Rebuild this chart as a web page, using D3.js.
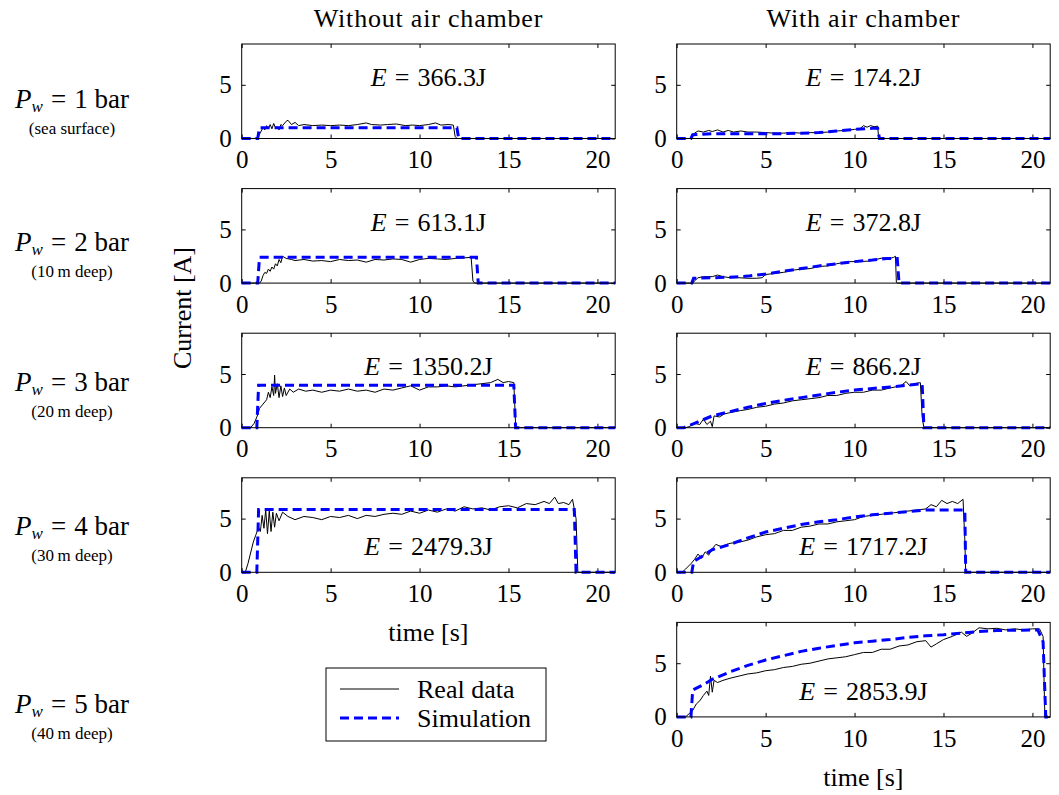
<!DOCTYPE html>
<html>
<head>
<meta charset="utf-8">
<script src="https://cdn.jsdelivr.net/npm/d3@7"></script>
<style>
  html, body { margin: 0; padding: 0; background: #fff; }
  svg { display: block; }
  text { font-family: "Liberation Serif", "DejaVu Serif", serif; fill: #000; }
</style>
</head>
<body>
<svg id="chart" width="1059" height="795"></svg>
<script>
// ---- data -------------------------------------------------------------
const columnTitles = ["Without air chamber", "With air chamber"];
const pressures = [1, 2, 3, 4, 5];
const depthNotes = ["(sea surface)", "(10\u2009m deep)", "(20\u2009m deep)", "(30\u2009m deep)", "(40\u2009m deep)"];
const xTicks = [0, 5, 10, 15, 20];
const yTicks = [0, 5];
const xDomain = [0, 21];
const yDomain = [0, 8.8];
const legendLabels = ["Real data", "Simulation"];

// energy per panel: [without chamber, with chamber]; null = not measured
const energies = [
  ["366.3J", "174.2J"],
  ["613.1J", "372.8J"],
  ["1350.2J", "866.2J"],
  ["2479.3J", "1717.2J"],
  [null, "2853.9J"]
];

// measured current [t (s), I (A)]
const realNoChamber1 = [[0,0],[0.7,0],[0.9,0.1],[1.1,0.7],[1.2,1.0],[1.3,0.8],[1.4,1.2],[1.5,0.9],[1.6,1.3],[1.7,0.9],[1.8,1.4],[1.9,1.0],[2.0,1.1],[2.1,0.8],[2.2,1.3],[2.3,1.2],[2.5,1.6],[2.6,1.7],[2.8,1.3],[3.0,1.5],[3.2,1.2],[3.5,1.3],[4.0,1.2],[4.5,1.25],[5,1.2],[5.5,1.25],[6,1.2],[6.5,1.3],[7,1.45],[7.3,1.3],[7.8,1.25],[8.2,1.3],[8.7,1.35],[9.2,1.2],[9.6,1.25],[10,1.2],[10.5,1.3],[10.9,1.45],[11.2,1.25],[11.6,1.3],[11.9,1.25],[12.0,0.2],[12.1,0],[21,0]];
const realNoChamber2 = [[0,0],[1.0,0],[1.1,0.2],[1.2,0.7],[1.3,1.0],[1.4,0.9],[1.5,1.3],[1.6,1.1],[1.7,1.5],[1.8,1.3],[1.9,1.8],[2.0,1.6],[2.1,2.2],[2.2,1.9],[2.3,2.5],[2.5,2.3],[2.8,2.2],[3.0,2.1],[3.5,2.2],[4,2.05],[4.5,2.1],[5,2.0],[5.5,2.2],[6,2.1],[6.5,2.15],[7,1.95],[7.5,2.2],[8,2.15],[8.5,2.25],[9,2.2],[9.5,1.95],[10,2.2],[10.5,2.3],[11,2.25],[11.5,2.2],[12,2.3],[12.5,2.35],[12.9,2.4],[13.0,0.2],[13.1,0],[21,0]];
const realNoChamber3 = [[0,0],[0.5,0],[0.7,0.4],[0.9,1.2],[1.0,1.8],[1.2,2.2],[1.4,2.6],[1.5,3.3],[1.6,2.8],[1.7,3.8],[1.8,3.0],[1.85,4.9],[1.9,3.2],[2.0,4.1],[2.1,2.8],[2.2,3.9],[2.3,2.9],[2.4,3.7],[2.5,3.0],[2.7,3.6],[2.9,3.3],[3.2,3.6],[3.6,3.4],[4,3.5],[4.5,3.3],[5,3.5],[5.5,3.4],[6,3.6],[6.5,3.4],[7,3.5],[7.5,3.3],[8,3.6],[8.5,3.5],[9,3.7],[9.5,3.9],[10,3.5],[10.5,3.8],[11,3.8],[11.5,3.9],[12,3.8],[12.5,3.9],[13,4.0],[13.5,4.1],[14,4.2],[14.4,4.5],[14.7,4.2],[15.0,4.3],[15.3,4.2],[15.4,0.3],[15.5,0],[21,0]];
const realNoChamber4 = [[0,0],[0.2,0],[0.35,0.8],[0.5,1.8],[0.65,2.8],[0.8,3.5],[0.95,4.2],[1.05,3.8],[1.15,5.3],[1.25,4.1],[1.35,5.8],[1.45,3.6],[1.55,5.7],[1.65,3.8],[1.75,5.6],[1.85,4.2],[1.95,5.5],[2.1,4.8],[2.3,5.6],[2.6,5.2],[3,4.9],[3.5,5.2],[4,5.1],[4.5,4.9],[5,5.2],[5.5,5.1],[6,5.3],[6.5,5.0],[7,5.3],[7.5,5.2],[8,5.4],[8.5,5.5],[9,5.4],[9.5,5.7],[10,5.5],[10.5,5.8],[11,5.6],[11.5,5.9],[12,5.7],[12.5,6.1],[13,5.9],[13.5,6.0],[14,5.8],[14.5,6.1],[15,6.2],[15.5,6.0],[16,6.4],[16.5,6.3],[17,6.6],[17.3,6.4],[17.6,7.0],[17.8,6.4],[18.1,6.5],[18.4,6.3],[18.6,6.8],[18.8,5.0],[18.9,0],[21,0]];
const realChamber1 = [[0,0],[0.8,0],[0.9,0.2],[1.0,0.5],[1.2,0.7],[1.5,0.6],[1.8,0.75],[2.0,0.65],[2.3,0.8],[2.6,0.6],[2.9,0.75],[3.2,0.6],[3.6,0.7],[4.0,0.6],[4.5,0.6],[5.0,0.55],[5.5,0.5],[6,0.5],[6.5,0.55],[7,0.5],[7.5,0.55],[8,0.55],[8.5,0.6],[9,0.7],[9.5,0.75],[10,0.85],[10.3,0.9],[10.5,1.2],[10.7,1.05],[10.9,1.2],[11.1,1.1],[11.3,1.15],[11.35,0.1],[11.4,0],[21,0]];
const realChamber2 = [[0,0],[0.9,0],[1.0,0.2],[1.2,0.5],[1.5,0.6],[2.0,0.6],[2.3,0.75],[2.6,0.6],[3.0,0.5],[3.5,0.5],[4,0.45],[4.5,0.45],[4.8,0.5],[5.0,0.8],[5.5,0.9],[6,1.0],[6.5,1.2],[7,1.3],[7.5,1.35],[8,1.55],[8.5,1.6],[9,1.8],[9.3,1.9],[9.7,2.0],[10.3,2.0],[10.8,2.05],[11.2,2.2],[11.6,2.35],[12,2.3],[12.2,2.4],[12.3,2.5],[12.35,0.1],[12.4,0],[21,0]];
const realChamber3 = [[0,0],[0.5,0],[0.7,0.1],[1.0,0.4],[1.3,0.3],[1.5,0.8],[1.7,0.3],[1.9,0.6],[2.0,0.1],[2.1,1.1],[2.4,1.0],[2.7,1.3],[3.0,1.4],[3.3,1.5],[3.6,1.6],[4,1.7],[4.5,1.9],[5,2.0],[5.5,2.2],[6,2.3],[6.5,2.5],[7,2.6],[7.5,2.7],[8,2.8],[8.5,3.0],[9,3.0],[9.5,3.2],[10,3.3],[10.5,3.3],[11,3.5],[11.5,3.5],[12,3.7],[12.3,3.8],[12.6,3.9],[12.9,4.3],[13.1,3.9],[13.4,4.1],[13.7,4.2],[13.8,1.0],[13.9,0],[21,0]];
const realChamber4 = [[0,0],[0.3,0],[0.5,0.3],[0.8,0.8],[1.0,1.2],[1.2,1.7],[1.4,1.3],[1.6,1.9],[1.8,1.6],[2.0,2.2],[2.2,2.6],[2.5,2.4],[3,2.7],[3.5,2.8],[4,3.0],[4.5,3.3],[5,3.5],[5.5,3.6],[6,3.9],[6.5,3.9],[7,4.2],[7.5,4.3],[8,4.5],[8.5,4.5],[9,4.7],[9.5,4.8],[10,4.9],[10.5,5.2],[11,5.3],[11.5,5.4],[12,5.5],[12.5,5.6],[13,5.7],[13.5,5.8],[14,5.9],[14.3,6.3],[14.6,6.1],[14.9,6.7],[15.2,6.4],[15.5,6.6],[15.8,6.4],[16.1,6.8],[16.2,3.0],[16.25,0],[21,0]];
const realChamber5 = [[0,0],[0.5,0],[0.7,0.3],[0.9,0.6],[1.1,1.2],[1.3,1.5],[1.5,2.0],[1.7,2.4],[1.8,2.0],[1.9,3.8],[2.0,2.3],[2.1,3.4],[2.3,3.2],[2.6,3.4],[3,3.6],[3.5,3.8],[4,4.0],[4.5,4.1],[5,4.3],[5.5,4.4],[6,4.6],[6.5,4.7],[7,4.9],[7.5,5.0],[8,5.2],[8.5,5.4],[9,5.5],[9.5,5.6],[10,5.8],[10.5,6.0],[11,6.0],[11.5,6.3],[12,6.3],[12.5,6.6],[13,6.7],[13.5,7.0],[14,7.1],[14.3,6.5],[14.6,6.8],[15,7.2],[15.5,7.5],[16,7.9],[16.3,7.5],[16.6,7.8],[17,8.3],[17.5,8.2],[18,8.25],[18.5,8.1],[19,8.2],[19.5,8.1],[20,8.2],[20.4,8.2],[20.6,7.5],[20.7,0],[21,0]];

// simulated current [t (s), I (A)]
const simNoChamber1 = [[0,0],[0.9,0],[1.0,1.0],[12.1,1.0],[12.2,0],[21,0]];
const simNoChamber2 = [[0,0],[0.9,0],[1.0,2.4],[13.2,2.4],[13.3,0],[21,0]];
const simNoChamber3 = [[0,0],[0.85,0],[0.95,3.95],[15.3,3.95],[15.4,0],[21,0]];
const simNoChamber4 = [[0,0],[0.85,0],[0.95,5.85],[18.7,5.85],[18.8,0],[21,0]];
const simChamber1 = [[0,0],[0.8,0],[0.9,0.35],[2,0.45],[4,0.45],[6,0.45],[7,0.5],[8,0.55],[9,0.7],[10,0.85],[11,0.95],[11.3,0.95],[11.4,0],[21,0]];
const simChamber2 = [[0,0],[0.85,0],[0.95,0.45],[2,0.5],[3,0.55],[4,0.65],[5,0.85],[6,1.1],[7,1.35],[8,1.6],[9,1.8],[10,2.0],[11,2.15],[11.8,2.3],[12.4,2.3],[12.5,0],[21,0]];
const simChamber3 = [[0,0],[0.4,0],[1,0.4],[2,1.1],[3,1.5],[4,1.9],[5,2.25],[6,2.55],[7,2.8],[8,3.05],[9,3.3],[10,3.5],[11,3.65],[12,3.8],[13,3.95],[13.8,4.1],[13.9,0],[21,0]];
const simChamber4 = [[0,0],[0.85,0],[0.95,1.0],[2,2.1],[3,2.6],[4,3.2],[5,3.75],[6,4.1],[7,4.45],[8,4.7],[9,4.9],[10,5.15],[11,5.35],[12,5.5],[13,5.65],[14,5.8],[16.2,5.8],[16.25,0],[21,0]];
const simChamber5 = [[0,0],[0.8,0],[0.9,2.5],[1.5,3.0],[2,3.5],[3,4.2],[4,4.8],[5,5.3],[6,5.7],[7,6.1],[8,6.4],[9,6.65],[10,6.9],[11,7.05],[12,7.2],[13,7.4],[14,7.55],[15,7.65],[16,7.8],[17,7.95],[18,8.05],[20.3,8.1],[20.6,7.0],[20.75,0],[21,0]];

const realSeries = [
  [realNoChamber1, realChamber1],
  [realNoChamber2, realChamber2],
  [realNoChamber3, realChamber3],
  [realNoChamber4, realChamber4],
  [null, realChamber5]
];
const simSeries = [
  [simNoChamber1, simChamber1],
  [simNoChamber2, simChamber2],
  [simNoChamber3, simChamber3],
  [simNoChamber4, simChamber4],
  [null, simChamber5]
];

// ---- layout -----------------------------------------------------------
const svg = d3.select("#chart");
const colLeft = [241.7, 676.7];
const panelW = 373.5;
const rowTop = [44, 188.6, 333.2, 477.8, 622.4];
const panelH = 94.5;
const FS = 24;
const SERIF = "Liberation Serif, DejaVu Serif, serif";
const simColor = "#0000ff";

svg.append("rect").attr("width", 1059).attr("height", 795).attr("fill", "#fff");

const line = d3.line();

function drawPanel(r, c) {
  const x0 = colLeft[c], y0 = rowTop[r];
  const x = d3.scaleLinear().domain(xDomain).range([0, panelW]);
  const y = d3.scaleLinear().domain(yDomain).range([panelH, 0]);
  const g = svg.append("g").attr("transform", `translate(${x0},${y0})`);

  // inward ticks on all four sides, labels on bottom and left only
  const bottom = g.append("g").attr("transform", `translate(0,${panelH})`)
    .call(d3.axisBottom(x).tickValues(xTicks).tickSizeInner(-4).tickSizeOuter(0).tickPadding(12));
  const top = g.append("g")
    .call(d3.axisTop(x).tickValues(xTicks).tickSizeInner(-4).tickSizeOuter(0).tickFormat(""));
  const left = g.append("g")
    .call(d3.axisLeft(y).tickValues(yTicks).tickSizeInner(-4).tickSizeOuter(0).tickPadding(10));
  const right = g.append("g").attr("transform", `translate(${panelW},0)`)
    .call(d3.axisRight(y).tickValues(yTicks).tickSizeInner(-4).tickSizeOuter(0).tickFormat(""));
  [bottom, top, left, right].forEach(a => {
    a.attr("font-family", SERIF).attr("font-size", FS);
    a.select(".domain").remove();
    a.selectAll("line").attr("stroke", "#000").attr("stroke-width", 1);
    a.selectAll("text").attr("font-family", SERIF).attr("font-size", FS + 1).attr("fill", "#000");
  });

  line.x(d => x(d[0])).y(d => y(d[1]));

  g.append("path").datum(realSeries[r][c])
    .attr("d", line).attr("fill", "none").attr("stroke", "#000")
    .attr("stroke-width", 1).attr("stroke-linejoin", "round");
  g.append("path").datum(simSeries[r][c])
    .attr("d", line).attr("fill", "none").attr("stroke", simColor)
    .attr("stroke-width", 3).attr("stroke-dasharray", "9,5");

  g.append("rect").attr("width", panelW).attr("height", panelH)
    .attr("fill", "none").attr("stroke", "#000").attr("stroke-width", 1);

  // energy annotation: high in the panel for small currents, low for large ones
  const labelY = (r >= 3) ? panelH - 26 : 33;
  const t = g.append("text").attr("x", panelW / 2).attr("y", labelY).attr("dy", "0.35em")
    .attr("text-anchor", "middle").attr("font-size", 26);
  t.append("tspan").attr("font-style", "italic").text("E");
  t.append("tspan").attr("dx", 8).text("=");
  t.append("tspan").attr("dx", 8).text(energies[r][c]);

  return { g, x, y };
}

for (let r = 0; r < pressures.length; r++) {
  for (let c = 0; c < 2; c++) {
    if (realSeries[r][c]) drawPanel(r, c);
  }
}

// column titles
columnTitles.forEach((t, c) => {
  svg.append("text").attr("x", colLeft[c] + panelW / 2).attr("y", 27)
    .attr("text-anchor", "middle").attr("font-size", 26)
    .attr("letter-spacing", 0.8).text(t);
});

// x-axis labels below the bottom panel of each column
[[0, 3], [1, 4]].forEach(([c, r]) => {
  svg.append("text").attr("x", colLeft[c] + panelW / 2).attr("y", rowTop[r] + panelH + 69)
    .attr("text-anchor", "middle").attr("font-size", 26).text("time [s]");
});

// shared y-axis label
svg.append("text").attr("transform", "translate(191,308) rotate(-90)")
  .attr("text-anchor", "middle").attr("font-size", 26).text("Current [A]");

// row labels with water pressure and depth
const rowLabelOffset = [9, 7, 3, 2, 35];
pressures.forEach((p, r) => {
  const cy = rowTop[r] + panelH / 2 + rowLabelOffset[r];
  const t = svg.append("text").attr("x", 72).attr("y", cy + 8)
    .attr("text-anchor", "middle").attr("font-size", 27);
  t.append("tspan").attr("font-style", "italic").text("P");
  t.append("tspan").attr("font-style", "italic").attr("font-size", 17).attr("dy", 4).text("w");
  t.append("tspan").attr("dy", -4).attr("dx", 8).text("=");
  t.append("tspan").attr("dx", 8).text(`${p} bar`);
  svg.append("text").attr("x", 72).attr("y", cy + 34)
    .attr("text-anchor", "middle").attr("font-size", 17).text(depthNotes[r]);
});

// legend
const lg = svg.append("g").attr("transform", "translate(326,668)");
lg.append("rect").attr("width", 220).attr("height", 73)
  .attr("fill", "#fff").attr("stroke", "#000").attr("stroke-width", 1);
legendLabels.forEach((lab, i) => {
  const yy = 21 + i * 29;
  lg.append("line").attr("x1", 14).attr("x2", 73).attr("y1", yy).attr("y2", yy)
    .attr("stroke", i === 0 ? "#000" : simColor)
    .attr("stroke-width", i === 0 ? 1 : 3)
    .attr("stroke-dasharray", i === 0 ? null : "9,5");
  lg.append("text").attr("x", 91).attr("y", yy).attr("dy", "0.35em")
    .attr("font-size", 26).text(lab);
});
</script>
</body>
</html>
